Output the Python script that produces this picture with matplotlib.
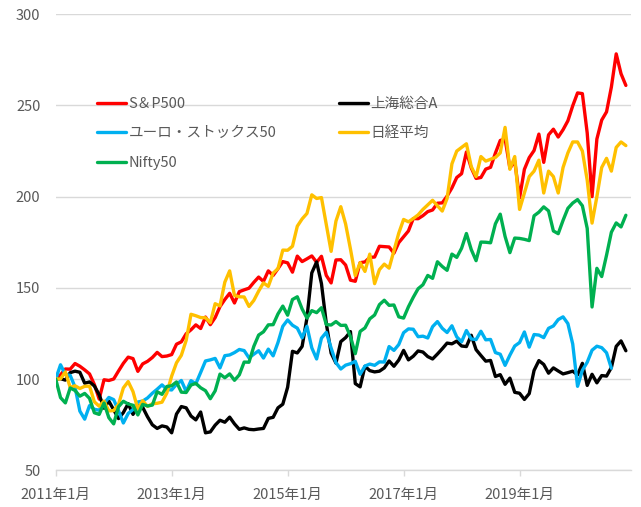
import matplotlib
matplotlib.use("Agg")
import matplotlib.pyplot as plt

plt.rcParams['font.family'] = ['Noto Sans CJK JP', 'DejaVu Sans']

# ---- data (index levels, base = 100) ----
sp500 = [100,
    102.3, 105.5, 105.4, 108.5, 107.0, 105.0, 102.8, 97.0, 89.0, 99.6, 99.2, 100.0,
    104.4, 108.6, 112.0, 111.2, 104.2, 108.3, 109.7, 111.8, 114.6, 112.3, 112.6, 113.4,
    119.1, 120.4, 124.8, 127.0, 129.7, 127.7, 134.0, 129.8, 133.7, 139.7, 143.6, 147.0,
    141.7, 147.9, 148.9, 149.8, 153.0, 155.9, 153.5, 159.3, 156.8, 160.5, 164.4, 163.7,
    158.6, 167.4, 164.4, 165.9, 167.5, 164.0, 167.3, 156.8, 152.7, 165.3, 165.4, 162.5,
    154.2, 153.6, 163.8, 164.2, 166.7, 166.9, 172.8, 172.6, 172.4, 169.0, 174.8, 178.0,
    181.2, 188.0, 187.9, 189.6, 191.8, 192.7, 196.4, 196.6, 200.3, 204.8, 210.5, 212.6,
    224.5, 215.8, 210.0, 210.5, 215.1, 216.1, 223.9, 230.8, 231.7, 215.6, 219.5, 199.3,
    215.0, 221.4, 225.3, 234.3, 218.8, 233.9, 237.0, 232.7, 236.7, 241.6, 249.8, 256.9,
    256.5, 234.9, 200.0, 231.6, 242.0, 246.5, 260.1, 278.3, 267.4, 261.0]

shanghai = [100, 100.2,
    99.4, 103.5, 104.3, 103.7, 97.7, 98.4, 96.2, 91.4, 84.0, 87.9, 83.1, 78.3,
    81.6, 86.5, 80.6, 85.3, 84.5, 79.3, 74.9, 72.9, 74.3, 73.7, 70.5, 80.8,
    84.9, 84.2, 79.7, 77.6, 81.9, 70.5, 71.0, 74.7, 77.4, 76.3, 79.1, 75.4,
    72.4, 73.2, 72.4, 72.2, 72.6, 72.9, 78.4, 79.0, 84.2, 86.2, 95.5, 115.2,
    114.3, 117.9, 133.5, 158.2, 164.2, 152.3, 130.5, 114.2, 108.7, 120.5, 122.7, 126.0,
    97.5, 95.7, 107.0, 104.6, 103.9, 104.3, 106.1, 109.9, 107.0, 110.4, 115.7, 110.5,
    112.5, 115.4, 114.8, 112.3, 111.0, 113.7, 116.6, 119.7, 119.3, 120.8, 118.1, 117.8,
    124.0, 116.1, 112.9, 109.8, 110.2, 101.4, 102.4, 97.1, 100.5, 92.7, 92.2, 88.8,
    92.0, 104.7, 110.1, 108.0, 103.2, 106.1, 104.4, 102.8, 103.5, 104.3, 102.3, 108.6,
    96.5, 102.6, 97.9, 101.9, 101.6, 106.3, 117.9, 120.9, 115.5]

eurostoxx = [100,
    107.8, 102.5, 102.0, 95.6, 82.4, 78.0, 85.4, 83.4, 82.9,
    86.5, 89.9, 88.7, 82.6, 75.9, 81.1, 83.3, 87.4, 87.9, 89.6, 92.2, 94.4,
    96.8, 94.3, 94.0, 97.1, 99.2, 93.2, 99.1, 97.4, 103.6, 109.9, 110.5, 111.3,
    106.1, 112.8, 113.2, 114.5, 116.2, 115.6, 111.6, 113.6, 115.5, 111.5, 116.4, 112.7,
    120.0, 128.9, 132.4, 129.5, 127.9, 122.6, 128.9, 117.1, 111.0, 122.4, 125.6, 117.0,
    109.0, 105.5, 107.6, 108.4, 109.7, 102.6, 107.1, 108.2, 107.5, 109.4, 109.3, 117.8,
    115.7, 118.9, 125.4, 127.5, 127.3, 123.2, 123.5, 122.5, 128.7, 131.5, 127.8, 125.5,
    129.2, 123.1, 120.4, 126.6, 122.0, 121.6, 126.2, 121.5, 121.7, 114.5, 113.6, 107.5,
    113.1, 118.1, 120.0, 125.8, 117.5, 124.4, 124.1, 122.7, 127.8, 129.1, 132.6, 134.1,
    130.4, 119.2, 96.0, 104.8, 109.2, 115.8, 118.0, 117.2, 114.4, 105.9]

nikkei = [100,
    100.1, 103.9, 95.4, 96.3, 94.8, 96.0, 96.1, 87.5, 85.1, 87.9, 82.5, 82.7,
    86.1, 95.1, 98.6, 93.1, 83.5, 88.1, 85.0, 86.4, 86.7, 87.3, 92.3, 101.6,
    108.9, 113.0, 121.2, 135.5, 134.7, 133.7, 133.6, 130.9, 141.3, 140.1, 153.1, 159.3,
    145.8, 145.1, 145.0, 139.8, 143.1, 148.2, 152.7, 150.8, 158.1, 160.5, 170.7, 170.6,
    172.8, 183.8, 187.8, 190.8, 201.0, 199.0, 199.5, 184.7, 170.0, 186.6, 194.5, 185.0,
    171.3, 156.7, 163.8, 159.0, 168.5, 152.3, 160.0, 163.0, 160.8, 170.4, 180.0, 187.5,
    186.2, 188.0, 190.0, 193.0, 195.5, 198.0, 195.0, 192.1, 199.0, 218.0, 225.0, 227.0,
    229.0, 216.5, 211.0, 222.0, 219.5, 220.5, 221.5, 224.0, 238.0, 215.0, 222.0, 193.0,
    202.0, 211.0, 214.0, 220.0, 202.0, 214.0, 211.0, 202.0, 216.0, 224.0, 230.0, 230.0,
    225.0, 209.0, 185.5, 200.0, 216.0, 221.0, 214.0, 227.0, 230.0, 228.0]

nifty50 = [100,
    89.8, 86.9, 95.1, 93.7, 90.6, 92.1, 89.4, 81.5, 80.6, 86.8, 78.8, 75.4,
    84.8, 87.8, 86.3, 85.6, 80.3, 86.1, 85.2, 85.7, 93.0, 91.6, 95.9, 96.3,
    98.4, 92.8, 92.6, 96.7, 97.6, 95.2, 93.6, 89.2, 93.5, 102.7, 100.7, 102.8,
    99.3, 102.3, 109.3, 109.2, 117.9, 124.1, 125.9, 129.7, 129.8, 135.7, 140.0, 135.0,
    143.6, 145.1, 138.4, 133.4, 137.5, 136.4, 139.1, 129.9, 129.6, 131.5, 129.4, 129.5,
    123.3, 113.9, 126.1, 128.0, 133.0, 135.1, 140.8, 143.2, 140.4, 140.6, 134.1, 133.4,
    139.6, 144.8, 149.5, 151.7, 156.8, 155.2, 164.3, 161.7, 159.6, 168.5, 166.7, 171.7,
    179.8, 171.0, 164.9, 175.1, 175.0, 174.7, 185.1, 190.4, 178.2, 169.3, 177.3, 177.1,
    176.6, 175.9, 189.5, 191.5, 194.4, 192.2, 181.2, 179.7, 187.0, 193.6, 196.5, 198.4,
    195.0, 182.6, 139.5, 160.7, 156.2, 167.9, 180.5, 185.6, 183.4, 189.8]

series_names = ["S＆P500", "上海総合A", "ユーロ・ストックス50", "日経平均", "Nifty50"]
series_colors = ["#FF0000", "#000000", "#00B0F0", "#FFC000", "#00B050"]
tick_positions = [0, 24, 48, 72, 96]
tick_labels = ["2011年1月", "2013年1月", "2015年1月", "2017年1月", "2019年1月"]
y_ticks = [50, 100, 150, 200, 250, 300]

W, H = 641, 507
fig = plt.figure(figsize=(W / 100, H / 100), dpi=100)
ax = fig.add_axes([55.7 / W, 1 - 470.2 / H, (630.7 - 55.7) / W, (470.2 - 14.3) / H])

all_series = [sp500, shanghai, eurostoxx, nikkei, nifty50]
lines = []
for data, name, col in zip(all_series, series_names, series_colors):
    ln, = ax.plot(range(len(data)), data, color=col, lw=2.4, label=name,
                  solid_joinstyle='round', solid_capstyle='round')
    lines.append(ln)

ax.set_xlim(0, 119)
ax.set_ylim(50, 300)
ax.set_yticks(y_ticks)
ax.set_xticks(tick_positions)
ax.set_xticklabels(tick_labels)
ax.grid(axis='y', color='#D9D9D9', lw=1.0)
ax.set_axisbelow(True)
for s in ['left', 'right', 'top']:
    ax.spines[s].set_visible(False)
ax.spines['bottom'].set_color('#D9D9D9')
ax.spines['bottom'].set_linewidth(1.0)
ax.tick_params(axis='y', length=0, pad=11, labelsize=10.5, labelcolor='#595959')
ax.tick_params(axis='x', length=4, width=1.0, color='#D9D9D9', pad=9,
               labelsize=10.5, labelcolor='#595959', direction='out')

order = [0, 2, 4, 1, 3]
leg = ax.legend([lines[i] for i in order], [series_names[i] for i in order],
                ncol=2, frameon=False, loc='upper left',
                bbox_to_anchor=(97 / W, 1 - 97 / H), bbox_transform=fig.transFigure,
                fontsize=10.5, handlelength=2.0, handletextpad=0.15,
                columnspacing=4.3, labelspacing=1.05, borderaxespad=0, borderpad=0)
for t in leg.get_texts():
    t.set_color('#595959')

fig.savefig("out.png", dpi=100)
